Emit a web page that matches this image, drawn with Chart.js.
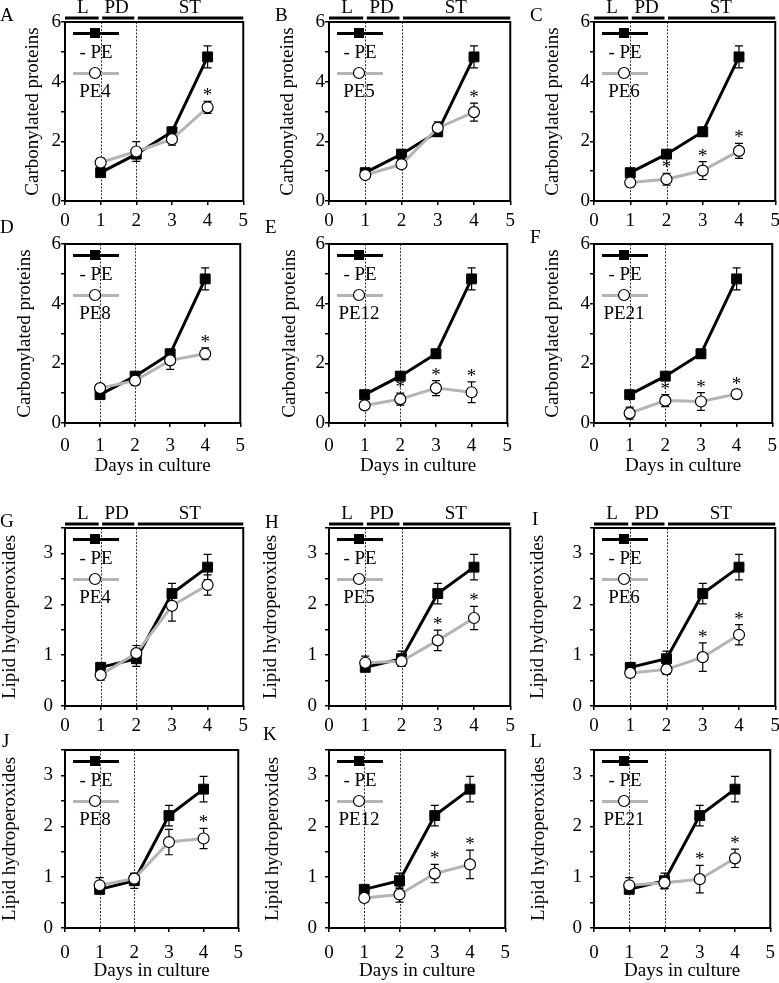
<!DOCTYPE html>
<html lang="en">
<head>
<meta charset="UTF-8" />
<title>Carbonylated proteins and lipid hydroperoxides</title>
<script src="https://cdn.jsdelivr.net/npm/chart.js"></script>
<style>
  html, body { margin: 0; padding: 0; background: #fff; overflow: hidden; }
  #fig { position: relative; width: 779px; height: 983px; }
  #fig canvas { position: absolute; }
</style>
</head>
<body>
<div id="fig"></div>
<script>
  const days = [1, 2, 3, 4];
  const phaseNames = ['L', 'PD', 'ST'];
  const phaseStart = [0, 1, 2];
  const phaseEnd = [1, 2, 5];
  const phaseLabelX = [0.5, 1.45, 3.5];

  // - PE control, same in every panel
  const carbCtrl = [0.95, 1.57, 2.32, 4.83];
  const carbCtrlErr = [0.1, 0.1, 0.15, 0.37];
  const lipidCtrl = [0.76, 0.93, 2.21, 2.73];
  const lipidCtrlErr = [0.08, 0.15, 0.2, 0.25];

  // carbonylated proteins
  const carbPE4 = [1.29, 1.66, 2.07, 3.14];
  const carbPE4Err = [0.15, 0.33, 0.2, 0.2];
  const carbPE4Sig = [0, 0, 0, 1];
  const carbPE5 = [0.87, 1.23, 2.45, 2.98];
  const carbPE5Err = [0.1, 0.12, 0.2, 0.3];
  const carbPE5Sig = [0, 0, 0, 1];
  const carbPE6 = [0.62, 0.73, 1.02, 1.68];
  const carbPE6Err = [0.15, 0.2, 0.3, 0.25];
  const carbPE6Sig = [0, 1, 1, 1];
  const carbPE8 = [1.17, 1.42, 2.1, 2.32];
  const carbPE8Err = [0.1, 0.15, 0.3, 0.2];
  const carbPE8Sig = [0, 0, 0, 1];
  const carbPE12 = [0.59, 0.8, 1.17, 1.03];
  const carbPE12Err = [0.08, 0.2, 0.25, 0.35];
  const carbPE12Sig = [0, 1, 1, 1];
  const carbPE21 = [0.33, 0.75, 0.72, 0.97];
  const carbPE21Err = [0.2, 0.2, 0.3, 0.15];
  const carbPE21Sig = [1, 1, 1, 1];

  // lipid hydroperoxides
  const lipidPE4 = [0.61, 1.04, 1.97, 2.38];
  const lipidPE4Err = [0.1, 0.15, 0.3, 0.2];
  const lipidPE4Sig = [0, 0, 0, 0];
  const lipidPE5 = [0.85, 0.88, 1.29, 1.73];
  const lipidPE5Err = [0.13, 0.1, 0.2, 0.23];
  const lipidPE5Sig = [0, 0, 1, 1];
  const lipidPE6 = [0.65, 0.72, 0.96, 1.40];
  const lipidPE6Err = [0.08, 0.1, 0.28, 0.2];
  const lipidPE6Sig = [0, 0, 1, 1];
  const lipidPE8 = [0.84, 0.97, 1.69, 1.76];
  const lipidPE8Err = [0.15, 0.1, 0.25, 0.2];
  const lipidPE8Sig = [0, 0, 0, 1];
  const lipidPE12 = [0.59, 0.66, 1.07, 1.25];
  const lipidPE12Err = [0.08, 0.15, 0.18, 0.28];
  const lipidPE12Sig = [0, 0, 1, 1];
  const lipidPE21 = [0.84, 0.89, 0.96, 1.37];
  const lipidPE21Err = [0.15, 0.12, 0.27, 0.18];
  const lipidPE21Sig = [0, 0, 1, 1];

  const panels = [
    { letter: 'A', name: 'PE4',  vals: carbPE4,  err: carbPE4Err,  sig: carbPE4Sig },
    { letter: 'B', name: 'PE5',  vals: carbPE5,  err: carbPE5Err,  sig: carbPE5Sig },
    { letter: 'C', name: 'PE6',  vals: carbPE6,  err: carbPE6Err,  sig: carbPE6Sig },
    { letter: 'D', name: 'PE8',  vals: carbPE8,  err: carbPE8Err,  sig: carbPE8Sig },
    { letter: 'E', name: 'PE12', vals: carbPE12, err: carbPE12Err, sig: carbPE12Sig },
    { letter: 'F', name: 'PE21', vals: carbPE21, err: carbPE21Err, sig: carbPE21Sig },
    { letter: 'G', name: 'PE4',  vals: lipidPE4,  err: lipidPE4Err,  sig: lipidPE4Sig },
    { letter: 'H', name: 'PE5',  vals: lipidPE5,  err: lipidPE5Err,  sig: lipidPE5Sig },
    { letter: 'I', name: 'PE6',  vals: lipidPE6,  err: lipidPE6Err,  sig: lipidPE6Sig },
    { letter: 'J', name: 'PE8',  vals: lipidPE8,  err: lipidPE8Err,  sig: lipidPE8Sig },
    { letter: 'K', name: 'PE12', vals: lipidPE12, err: lipidPE12Err, sig: lipidPE12Sig },
    { letter: 'L', name: 'PE21', vals: lipidPE21, err: lipidPE21Err, sig: lipidPE21Sig }
  ];

  // page layout (plot area edges in px)
  const colLeft = [65, 329, 594];
  const colRight = [245, 512, 777];
  const rowTop = [22, 244, 528, 750];
  const rowBottom = [201, 423, 706, 928];
  const xTickPad = [5, 8, 5, 10];
  const yTitleOff = [32, 41, 41, 40, 39, 41, 55, 58, 56, 55, 56, 55];
  const letterPos = [[0, 21], [275, 21], [530, 21], [0, 233], [265, 233], [530, 243],
                     [0, 527], [265, 528], [532, 525], [2, 747], [263, 740], [530, 747]];

  const FS = 19;
  const FONT = FS + 'px "Liberation Serif"';
  const LH = FS * 1.2 / 2;
  const GRAY = '#b4b4b4';
  const AXW = 72, PADT = 26, XAXH = 60, PADR = 8;

  Chart.defaults.font.family = '"Liberation Serif", "Times New Roman", serif';
  Chart.defaults.font.size = FS;
  Chart.defaults.color = '#000';

  function makeDecor(p, i, left, top, row) {
    return {
      id: 'decor' + i,
      beforeDatasetsDraw(chart) {
        const { ctx, chartArea: a, scales: { x, y } } = chart;
        ctx.save();
        // dotted lines at day 1 and day 2
        ctx.strokeStyle = '#333';
        ctx.lineWidth = 1;
        ctx.setLineDash([2, 1.5]);
        [1, 2].forEach(d => {
          const px = Math.round(x.getPixelForValue(d)) + 0.5;
          ctx.beginPath(); ctx.moveTo(px, a.top); ctx.lineTo(px, a.bottom); ctx.stroke();
        });
        ctx.setLineDash([]);
        // error bars
        ctx.strokeStyle = '#000';
        ctx.lineWidth = 1.2;
        chart.data.datasets.forEach(ds => {
          ds.data.forEach((pt, k) => {
            const px = x.getPixelForValue(pt.x);
            const hi = y.getPixelForValue(pt.y + ds.err[k]);
            const lo = y.getPixelForValue(pt.y - ds.err[k]);
            ctx.beginPath();
            ctx.moveTo(px, hi); ctx.lineTo(px, lo);
            ctx.moveTo(px - 4, hi); ctx.lineTo(px + 4, hi);
            ctx.moveTo(px - 4, lo); ctx.lineTo(px + 4, lo);
            ctx.stroke();
          });
        });
        ctx.restore();
      },
      afterDatasetsDraw(chart) {
        const { ctx, chartArea: a, scales: { x, y } } = chart;
        ctx.save();
        ctx.font = FONT;
        ctx.fillStyle = '#000';
        // asterisks
        const ds = chart.data.datasets[0];
        ctx.textAlign = 'center';
        ctx.textBaseline = 'alphabetic';
        ds.data.forEach((pt, k) => {
          if (!ds.sig[k]) return;
          const hi = y.getPixelForValue(pt.y + ds.err[k]);
          ctx.fillText('*', x.getPixelForValue(pt.x), hi);
        });
        // frame
        ctx.strokeStyle = '#000';
        ctx.lineWidth = 2;
        ctx.strokeRect(a.left, a.top, a.right - a.left, a.bottom - a.top);
        // legend
        const lx0 = a.left + 8, lx1 = a.left + 54, mx = a.left + 30;
        ctx.lineWidth = 3;
        ctx.strokeStyle = '#000';
        ctx.beginPath(); ctx.moveTo(lx0, a.top + 11.5); ctx.lineTo(lx1, a.top + 11.5); ctx.stroke();
        ctx.fillRect(mx - 5, a.top + 6, 10, 10);
        ctx.fillText('- PE', mx + 1, a.top + 36);
        ctx.strokeStyle = GRAY;
        ctx.beginPath(); ctx.moveTo(lx0, a.top + 51.5); ctx.lineTo(lx1, a.top + 51.5); ctx.stroke();
        ctx.beginPath(); ctx.arc(mx, a.top + 51, 5.5, 0, Math.PI * 2);
        ctx.fillStyle = '#fff'; ctx.fill();
        ctx.lineWidth = 1.2; ctx.strokeStyle = '#000'; ctx.stroke();
        ctx.fillStyle = '#000';
        ctx.fillText(p.name, mx, a.top + 75);
        // growth phases above the plot
        if (row === 0 || row === 2) {
          ctx.lineWidth = 3;
          phaseNames.forEach((nm, k) => {
            const x0 = x.getPixelForValue(phaseStart[k]) + (k ? 1.5 : 0);
            const x1 = x.getPixelForValue(phaseEnd[k]) - (k < 2 ? 2 : 0);
            ctx.beginPath(); ctx.moveTo(x0, a.top - 4); ctx.lineTo(x1, a.top - 4); ctx.stroke();
            ctx.fillText(nm, x.getPixelForValue(phaseLabelX[k]), a.top - 9);
          });
        }
        // panel letter
        ctx.textAlign = 'left';
        ctx.fillText(p.letter, letterPos[i][0] - left, letterPos[i][1] - top);
        ctx.restore();
      }
    };
  }

  const fig = document.getElementById('fig');

  panels.forEach((p, i) => {
    const col = i % 3, row = Math.floor(i / 3);
    const isCarb = row < 2;
    const L = colLeft[col], R = colRight[col], T = rowTop[row], B = rowBottom[row];
    const left = L - AXW, top = T - PADT;
    const w = AXW + (R - L) + PADR, h = PADT + (B - T) + XAXH;
    const cv = document.createElement('canvas');
    cv.width = w; cv.height = h;
    cv.style.left = left + 'px'; cv.style.top = top + 'px';
    cv.style.width = w + 'px'; cv.style.height = h + 'px';
    fig.appendChild(cv);

    const ctrl = isCarb ? carbCtrl : lipidCtrl;
    const ctrlErr = isCarb ? carbCtrlErr : lipidCtrlErr;
    const tickGrid = { drawOnChartArea: false, drawTicks: true, tickLength: 4, color: '#000', lineWidth: 1.5 };

    new Chart(cv, {
      type: 'line',
      data: {
        datasets: [
          {
            label: p.name,
            data: days.map((d, k) => ({ x: d, y: p.vals[k] })),
            err: p.err, sig: p.sig,
            borderColor: GRAY, borderWidth: 3,
            pointStyle: 'circle', pointRadius: 5.5,
            pointBackgroundColor: '#fff', pointBorderColor: '#000', pointBorderWidth: 1.2,
            order: 0
          },
          {
            label: '- PE',
            data: days.map((d, k) => ({ x: d, y: ctrl[k] })),
            err: ctrlErr,
            borderColor: '#000', borderWidth: 3,
            pointStyle: 'rect', pointRadius: 7,
            pointBackgroundColor: '#000', pointBorderColor: '#000', pointBorderWidth: 1,
            order: 1
          }
        ]
      },
      options: {
        responsive: false,
        animation: false,
        events: [],
        layout: { padding: { top: PADT, right: PADR, left: 0, bottom: 0 } },
        plugins: { legend: { display: false }, tooltip: { enabled: false } },
        scales: {
          x: {
            type: 'linear', min: 0, max: 5,
            afterFit: s => { s.height = XAXH; },
            border: { display: false },
            grid: tickGrid,
            ticks: { stepSize: 1, autoSkip: false, maxRotation: 0, padding: xTickPad[row] },
            title: {
              display: row === 1 || row === 3,
              text: 'Days in culture',
              padding: { top: 0, bottom: XAXH - 43 - LH }
            }
          },
          y: {
            type: 'linear', min: 0, max: isCarb ? 6 : 3.5,
            afterFit: s => { s.width = AXW; },
            border: { display: false },
            grid: tickGrid,
            ticks: {
              stepSize: isCarb ? 1 : 0.5, autoSkip: false,
              padding: isCarb ? 0 : 8,
              callback: v => isCarb ? (v % 2 === 0 ? v : '') : (Number.isInteger(v) ? v : '')
            },
            title: {
              display: true,
              text: isCarb ? 'Carbonylated proteins' : 'Lipid hydroperoxides',
              padding: { top: AXW - yTitleOff[i] - LH, bottom: 0 }
            }
          }
        }
      },
      plugins: [makeDecor(p, i, left, top, row)]
    });
  });
</script>
</body>
</html>
